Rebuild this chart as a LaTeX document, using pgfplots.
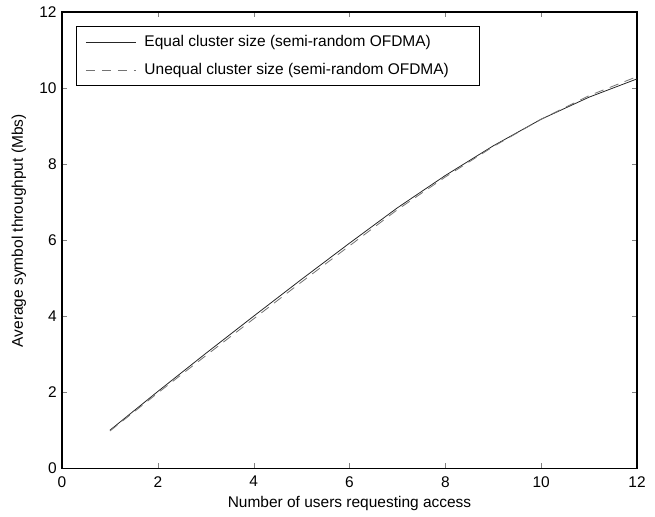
\documentclass[border=0pt]{standalone}
\usepackage{pgfplots}
\pgfplotsset{compat=1.18}
\usepackage{fontspec}
\setmainfont{Liberation Sans}
\begin{document}
\fontsize{11.6}{13.9}\selectfont
\begin{tikzpicture}
\begin{axis}[
  scale only axis,
  width=431pt, height=342pt,
  xmin=0, xmax=12, ymin=0, ymax=12,
  xtick={0,2,...,12}, ytick={0,2,...,12},
  tick align=inside,
  ticklabel style={font=\fontsize{11.6}{13.9}\selectfont},
  xticklabel style={yshift=-2pt},
  /pgf/number format/assume math mode=true,
  major tick length=4pt,
  axis line style={line width=0.8pt},
  xlabel={Number of users requesting access},
  ylabel={Average symbol throughput (Mbs)},
  label style={font=\fontsize{11.6}{13.9}\selectfont},
  xlabel style={yshift=1pt},
  ylabel style={yshift=2pt, xshift=7pt},
  legend cell align=left,
  legend style={at={(rel axis cs:0.024,0.969)}, anchor=north west,
    draw=black, line width=0.6pt, font=\fontsize{11.6}{13.9}\selectfont,
    row sep=6.8pt, inner xsep=7pt, inner ysep=4.5pt},
  legend image code/.code={\draw[#1] (0cm,0cm) -- (1.32cm,0cm);},
]
\addplot[black!85, line width=0.6pt] coordinates {
(1,1.00) (2,2.02) (3,3.02) (4,4.00) (5,4.97) (6,5.92) (7,6.85) (8,7.70) (9,8.48) (10,9.18) (11,9.76) (12,10.24)};
\addlegendentry{\hspace*{4pt}Equal cluster size (semi-random OFDMA)}
\addplot[black!55, line width=0.6pt, dash pattern=on 7pt off 5pt] coordinates {
(1,0.98) (2,1.98) (3,2.96) (4,3.93) (5,4.90) (6,5.85) (7,6.80) (8,7.66) (9,8.46) (10,9.18) (11,9.80) (12,10.30)};
\addlegendentry{\hspace*{4pt}Unequal cluster size (semi-random OFDMA)\hspace*{14pt}}
\path (rel axis cs:0,0) ++(-46.5pt,-36pt) coordinate (bl);
\path (rel axis cs:1,1) ++(13.5pt,9pt) coordinate (tr);
\end{axis}
\useasboundingbox (bl) rectangle (tr);
\end{tikzpicture}
\end{document}
